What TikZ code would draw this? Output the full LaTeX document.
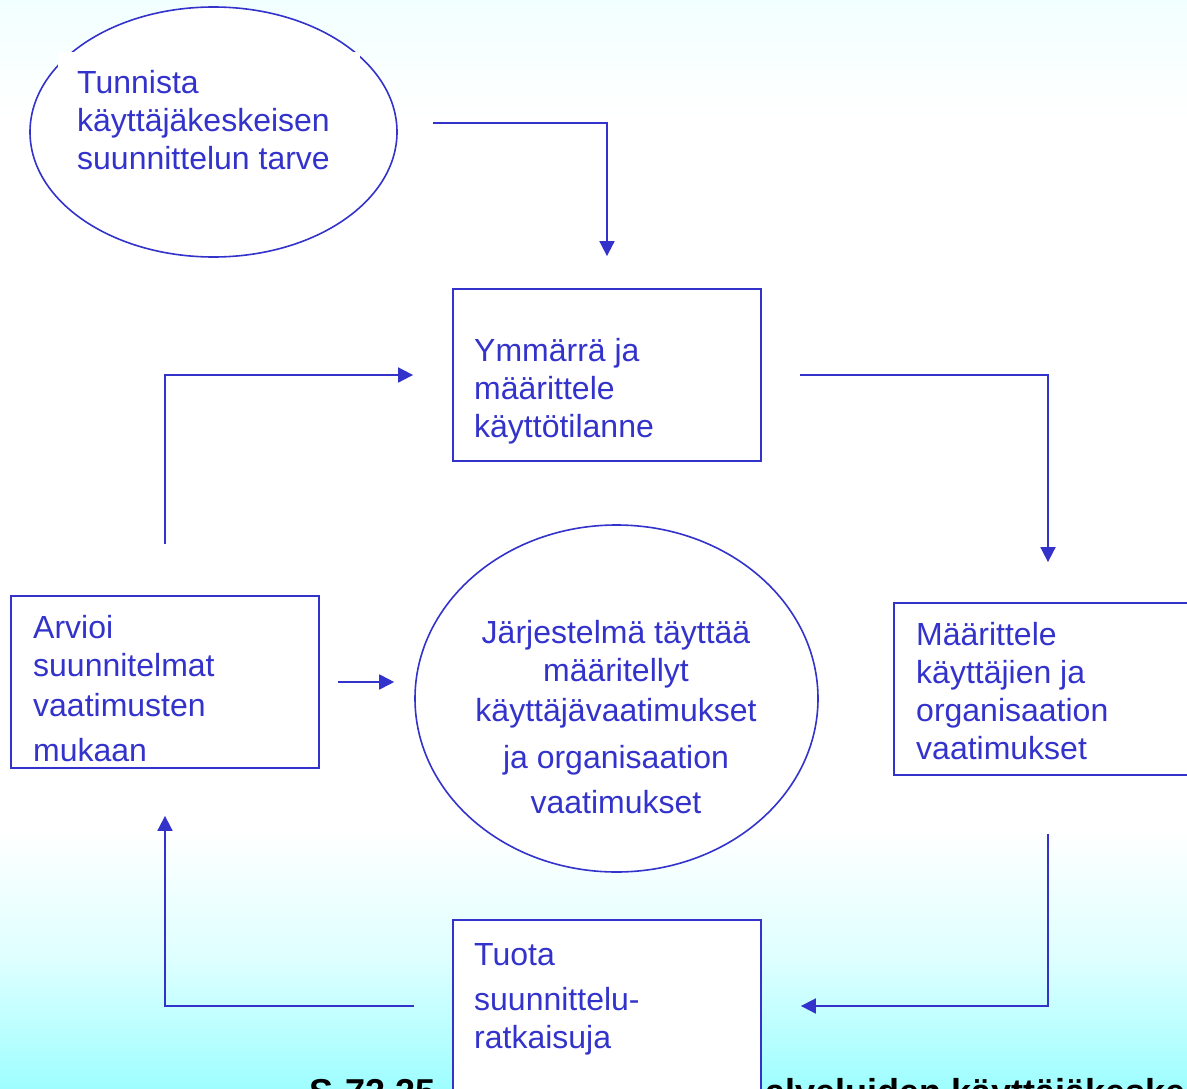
\documentclass[tikz,border=0pt]{standalone}
\usepackage{fontspec}
\setmainfont{Liberation Sans}
\usetikzlibrary{shapes.geometric,arrows.meta}
\definecolor{myblue}{RGB}{51,51,204}
\definecolor{bgtop}{RGB}{242,255,255}
\definecolor{bgmid}{RGB}{222,255,255}
\definecolor{bgbot}{RGB}{158,254,255}
\begin{document}
\begin{tikzpicture}[x=1pt,y=-1pt,
  box/.style={draw=myblue, line width=1.8pt, fill=white, inner sep=0pt, minimum width=308pt, minimum height=172pt},
  oval/.style={ellipse, draw=myblue, line width=1.6pt, fill=white, inner sep=0pt},
  conn/.style={draw=myblue, line width=1.8pt, -{Triangle[length=15pt,width=15pt]}},
  txt/.style={text=myblue, inner sep=0pt, font=\fontsize{32}{38}\selectfont},
  foot/.style={text=black, inner sep=0pt, font=\bfseries\fontsize{36}{40}\selectfont}]
\clip (0,0) rectangle (1187,1089);
% background
\fill[white] (0,0) rectangle (1187,1089);
\shade[top color=bgtop, bottom color=white] (0,0) rectangle (1187,120);
\shade[top color=white, bottom color=bgmid] (0,830) rectangle (1187,960);
\shade[top color=bgmid, bottom color=bgbot] (0,959.5) rectangle (1187,1089);
% footer text (partly hidden)
\node[foot, anchor=base west] (code) at (309,1104) {S-72.25};
\node[foot, anchor=base west] (title) at (765,1104) {alveluiden käyttäjäkeskeinen};
% top-left ellipse
\node[oval, minimum width=367pt, minimum height=250pt] (e1) at (213.5,132) {};
\fill[white] (58,52) rectangle (360,185);
\node[txt, anchor=base west] (t1) at (77,94) {\begin{tabular}[t]{@{}l@{}}Tunnista\\käyttäjäkeskeisen\\suunnittelun tarve\end{tabular}};
% boxes
\node[box] (ymm) at (607,375) {};
\node[txt, anchor=base west] (t2) at (474,361) {\begin{tabular}[t]{@{}l@{}}Ymmärrä ja\\määrittele\\käyttötilanne\end{tabular}};
\node[box] (maar) at (1048,689) {};
\node[txt, anchor=base west] (t3) at (916,645) {\begin{tabular}[t]{@{}l@{}}Määrittele\\käyttäjien ja\\organisaation\\vaatimukset\end{tabular}};
\node[box] (tuota) at (607,1006) {};
\node[txt, anchor=base west] (t4) at (474,965) {\begin{tabular}[t]{@{}l@{}}Tuota\\[7pt]suunnittelu-\\ratkaisuja\end{tabular}};
\node[box] (arv) at (165,682) {};
\node[txt, anchor=base west] (t5) at (33,638) {\begin{tabular}[t]{@{}l@{}}Arvioi\\suunnitelmat\\[2pt]vaatimusten\\[7pt]mukaan\end{tabular}};
% centre ellipse
\node[oval, minimum width=403pt, minimum height=347pt] (e2) at (616.5,698.5) {};
\node[txt, anchor=base] (t6) at (616,643) {\begin{tabular}[t]{@{}c@{}}Järjestelmä täyttää\\määritellyt\\[2pt]käyttäjävaatimukset\\[9pt]ja organisaation\\[7pt]vaatimukset\end{tabular}};
% connectors
\coordinate (s1) at (433,123);
\draw[conn, shorten >=32pt] (s1) -| (ymm.north);
\draw[conn, shorten <=38pt, shorten >=40pt] (ymm.east) -| (maar.north);
\draw[conn, shorten <=58pt, shorten >=39pt] (maar.south) |- (tuota.east);
\draw[conn, shorten <=38pt, shorten >=47pt] (tuota.west) -| (arv.south);
\draw[conn, shorten <=18pt, shorten >=20pt] (arv.east) -- (arv.east -| e2.west);
\draw[conn, shorten <=51pt, shorten >=39pt] (arv.north) |- (ymm.west);
\end{tikzpicture}
\end{document}
